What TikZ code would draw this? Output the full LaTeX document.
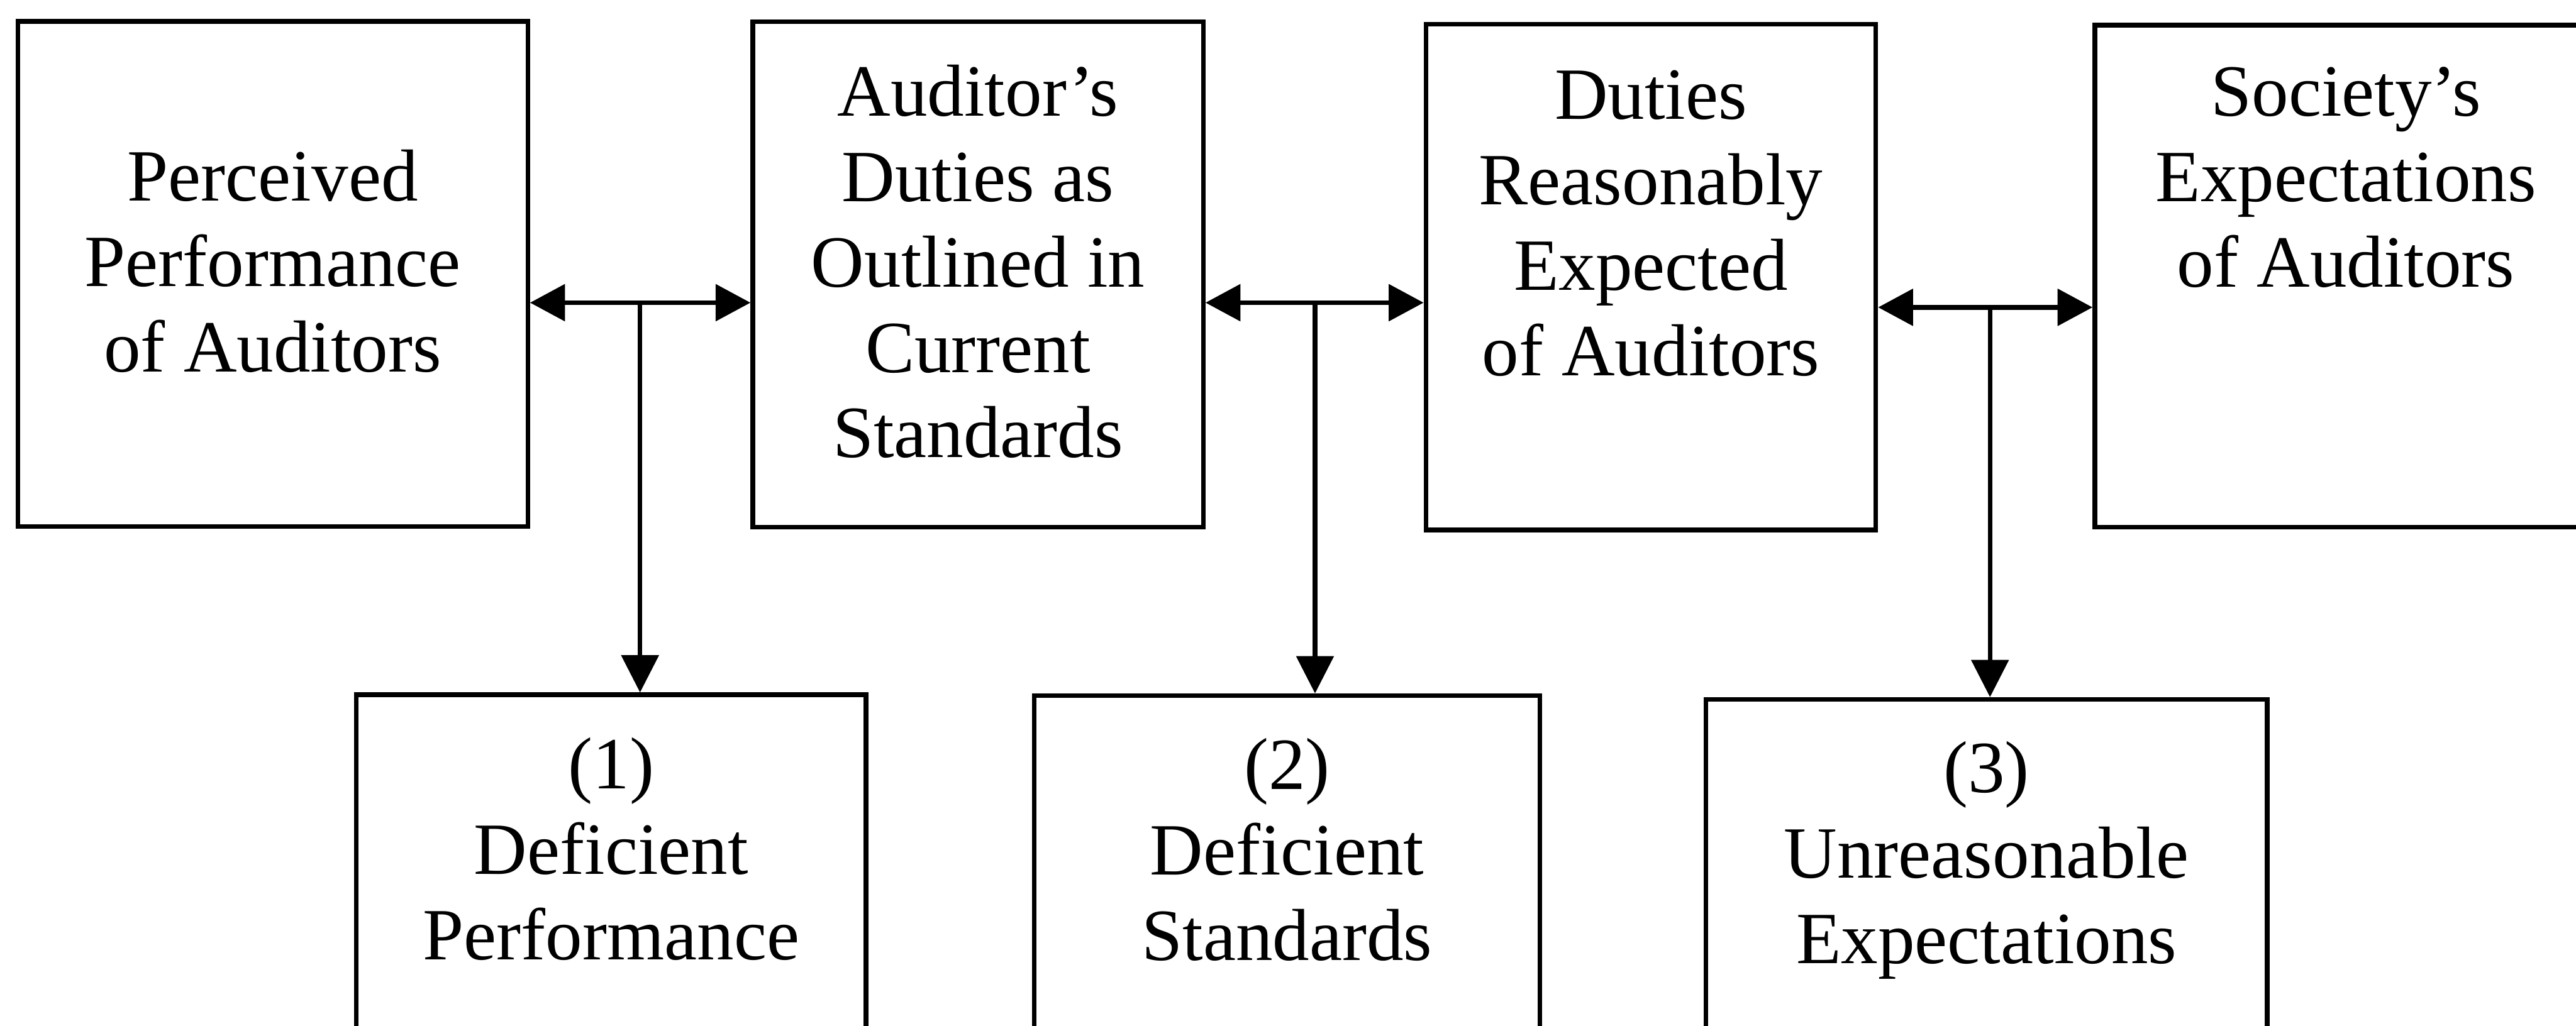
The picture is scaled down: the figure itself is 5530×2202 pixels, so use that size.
\documentclass[tikz,border=0pt]{standalone}
\usepackage{fontspec}
\setmainfont{Liberation Serif}
\usetikzlibrary{arrows.meta}

\tikzset{
  box/.style={draw, line width=2.8pt, rectangle, inner sep=0pt},
  lbl/.style={inner sep=0pt, anchor=base,
    font=\fontsize{45}{52.2}\selectfont},
  link/.style={line width=2.8pt},
  twoway/.style={link, {Triangle[length=7.5mm,width=7.8mm]}-{Triangle[length=7.5mm,width=7.8mm]}},
  oneway/.style={link, -{Triangle[length=8mm,width=7.9mm]}}
}
\newcommand{\lines}[1]{\begin{tabular}[t]{@{}c@{}}#1\end{tabular}}

\begin{document}
\begin{tikzpicture}[x=0.1mm, y=-0.1mm]
  \useasboundingbox (0,0) rectangle (5530,2202);

  % upper row of boxes
  \node[box, minimum width=109.5mm, minimum height=108.5mm] (A) at (585.5,588.5) {};
  \node[box, minimum width=96.7mm,  minimum height=108.5mm] (B) at (2099.5,589.5) {};
  \node[box, minimum width=96.6mm,  minimum height=108.6mm] (C) at (3544,595) {};
  \node[box, minimum width=107.8mm, minimum height=107.8mm] (D) at (5036,593) {};

  \node[lbl] (At) at (585.5,432) {\lines{Perceived\\Performance\\of Auditors}};
  \node[lbl] (Bt) at (2099.5,249) {\lines{Auditor’s\\Duties as\\Outlined in\\Current\\Standards}};
  \node[lbl] (Ct) at (3544,256) {\lines{Duties\\Reasonably\\Expected\\of Auditors}};
  \node[lbl] (Dt) at (5036,249) {\lines{Society’s\\Expectations\\of Auditors}};

  % lower row of boxes
  \node[box, minimum width=109.4mm, minimum height=80.8mm] (G1) at (1312,1896) {};
  \node[box, minimum width=108.6mm, minimum height=80.6mm] (G2) at (2763,1897) {};
  \node[box, minimum width=120.5mm, minimum height=79.8mm] (G3) at (4264.5,1901) {};

  \node[lbl] (G1t) at (1312,1694) {\lines{(1)\\Deficient\\Performance}};
  \node[lbl] (G2t) at (2763,1695) {\lines{(2)\\Deficient\\Standards}};
  \node[lbl] (G3t) at (4264.5,1702) {\lines{(3)\\Unreasonable\\Expectations}};

  % junctions of the connectors
  \coordinate (j1) at (1374,650);
  \coordinate (j2) at (2823,650);
  \coordinate (j3) at (4272,660);

  \draw[twoway] (j1 -| A.east) -- (j1 -| B.west);
  \draw[twoway] (j2 -| B.east) -- (j2 -| C.west);
  \draw[twoway] (j3 -| C.east) -- (j3 -| D.west);

  \draw[oneway] (j1) -- (j1 |- G1.north);
  \draw[oneway] (j2) -- (j2 |- G2.north);
  \draw[oneway] (j3) -- (j3 |- G3.north);
\end{tikzpicture}
\end{document}
